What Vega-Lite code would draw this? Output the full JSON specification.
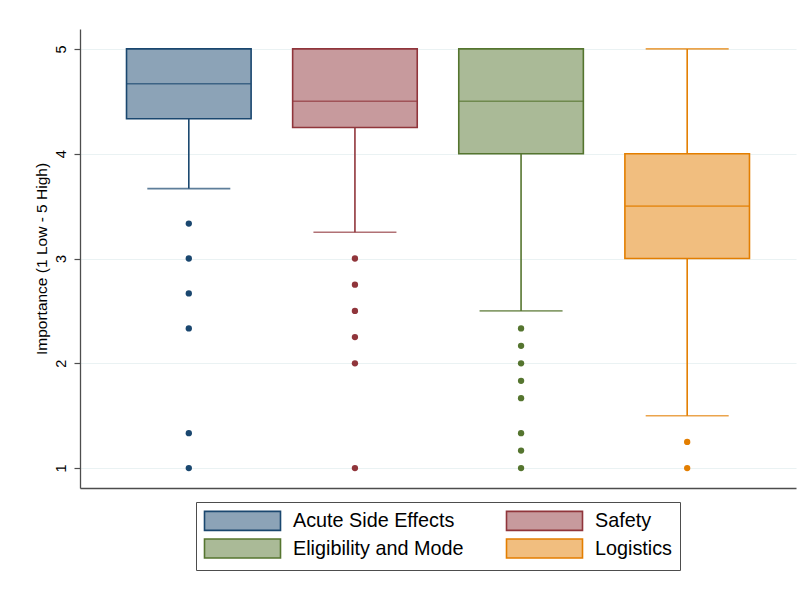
{
  "$schema": "https://vega.github.io/schema/vega-lite/v6.json",
  "width": 716,
  "height": 459,
  "autosize": {"type": "none"},
  "padding": {"left": 80, "top": 29, "right": 7, "bottom": 102},
  "background": "white",
  "config": {
    "view": {"stroke": null},
    "font": "Liberation Sans",
    "legend": {
      "layout": {"bottom": {"anchor": "middle"}}
    }
  },
  "datasets": {
    "stats": [
      {"group": "Acute Side Effects", "lower": 3.667, "q1": 4.333, "median": 4.667, "q3": 5, "upper": 5},
      {"group": "Safety", "lower": 3.25, "q1": 4.25, "median": 4.5, "q3": 5, "upper": 5},
      {"group": "Eligibility and Mode", "lower": 2.5, "q1": 4, "median": 4.5, "q3": 5, "upper": 5},
      {"group": "Logistics", "lower": 1.5, "q1": 3, "median": 3.5, "q3": 4, "upper": 5}
    ],
    "outliers": [
      {"group": "Acute Side Effects", "value": 3.333},
      {"group": "Acute Side Effects", "value": 3},
      {"group": "Acute Side Effects", "value": 2.667},
      {"group": "Acute Side Effects", "value": 2.333},
      {"group": "Acute Side Effects", "value": 1.333},
      {"group": "Acute Side Effects", "value": 1},
      {"group": "Safety", "value": 3},
      {"group": "Safety", "value": 2.75},
      {"group": "Safety", "value": 2.5},
      {"group": "Safety", "value": 2.25},
      {"group": "Safety", "value": 2},
      {"group": "Safety", "value": 1},
      {"group": "Eligibility and Mode", "value": 2.333},
      {"group": "Eligibility and Mode", "value": 2.167},
      {"group": "Eligibility and Mode", "value": 2},
      {"group": "Eligibility and Mode", "value": 1.833},
      {"group": "Eligibility and Mode", "value": 1.667},
      {"group": "Eligibility and Mode", "value": 1.333},
      {"group": "Eligibility and Mode", "value": 1.167},
      {"group": "Eligibility and Mode", "value": 1},
      {"group": "Logistics", "value": 1.25},
      {"group": "Logistics", "value": 1}
    ]
  },
  "encoding": {
    "x": {
      "field": "group",
      "type": "nominal",
      "sort": ["Acute Side Effects", "Safety", "Eligibility and Mode", "Logistics"],
      "scale": {"paddingInner": 0.25, "paddingOuter": 0.28},
      "axis": {
        "title": null,
        "labels": false,
        "ticks": false,
        "grid": false,
        "domain": true,
        "domainColor": "#4d4d4d",
        "domainWidth": 1.3
      }
    }
  },
  "layer": [
    {
      "data": {"name": "stats"},
      "mark": {"type": "rule", "strokeWidth": 1.6},
      "encoding": {
        "y": {
          "field": "lower",
          "type": "quantitative",
          "scale": {"domain": [0.81, 5.19], "nice": false, "zero": false},
          "axis": {
            "title": "Importance (1 Low - 5 High)",
            "titleFontSize": 15.5,
            "titleFontWeight": "normal",
            "titleColor": "#000000",
            "titlePadding": 4,
            "values": [1, 2, 3, 4, 5],
            "format": "d",
            "labelAngle": -90,
            "labelAlign": "center",
            "labelBaseline": "bottom",
            "labelFontSize": 14.5,
            "labelColor": "#000000",
            "labelPadding": 6,
            "tickSize": 6,
            "tickColor": "#4d4d4d",
            "tickWidth": 1.2,
            "domainColor": "#4d4d4d",
            "domainWidth": 1.3,
            "grid": true,
            "gridColor": "#eaf2f3",
            "gridWidth": 1.2
          }
        },
        "y2": {"field": "upper"},
        "color": {
          "field": "group",
          "type": "nominal",
          "scale": {
            "domain": ["Logistics", "Eligibility and Mode", "Safety", "Acute Side Effects"],
            "range": ["#e37e00", "#55752f", "#90353b", "#1a476f"]
          },
          "legend": null
        }
      }
    },
    {
      "data": {"name": "stats"},
      "mark": {"type": "tick", "size": 83, "thickness": 1.6},
      "encoding": {
        "y": {"field": "lower", "type": "quantitative"},
        "color": {"field": "group", "type": "nominal", "legend": null}
      }
    },
    {
      "data": {"name": "stats"},
      "mark": {"type": "tick", "size": 83, "thickness": 1.6},
      "encoding": {
        "y": {"field": "upper", "type": "quantitative"},
        "color": {"field": "group", "type": "nominal", "legend": null}
      }
    },
    {
      "data": {"name": "stats"},
      "mark": {"type": "bar", "strokeWidth": 1.6},
      "encoding": {
        "y": {"field": "q1", "type": "quantitative"},
        "y2": {"field": "q3"},
        "fill": {
          "field": "group",
          "type": "nominal",
          "scale": {
            "domain": ["Acute Side Effects", "Safety", "Eligibility and Mode", "Logistics"],
            "range": ["#8ca3b7", "#c79a9d", "#aaba97", "#f1be7f"]
          },
          "legend": {
            "title": null,
            "orient": "bottom",
            "direction": "horizontal",
            "columns": 2,
            "offset": 14,
            "symbolType": "M-4,-1H4V1H-4Z",
            "symbolSize": 361,
            "symbolOffset": 28,
            "symbolStrokeWidth": 1.6,
            "labelFontSize": 19.8,
            "labelColor": "#000000",
            "labelOffset": 40,
            "labelLimit": 300,
            "columnPadding": 39,
            "rowPadding": 1,
            "padding": 8,
            "strokeColor": "#4d4d4d",
            "fillColor": "#ffffff"
          }
        },
        "stroke": {
          "field": "group",
          "type": "nominal",
          "scale": {
            "domain": ["Acute Side Effects", "Safety", "Eligibility and Mode", "Logistics"],
            "range": ["#1a476f", "#90353b", "#55752f", "#e37e00"]
          },
          "legend": {
            "title": null,
            "orient": "bottom",
            "direction": "horizontal",
            "columns": 2,
            "offset": 14,
            "symbolType": "M-4,-1H4V1H-4Z",
            "symbolSize": 361,
            "symbolOffset": 28,
            "symbolStrokeWidth": 1.6,
            "labelFontSize": 19.8,
            "labelColor": "#000000",
            "labelOffset": 40,
            "labelLimit": 300,
            "columnPadding": 39,
            "rowPadding": 1,
            "padding": 8,
            "strokeColor": "#4d4d4d",
            "fillColor": "#ffffff"
          }
        }
      }
    },
    {
      "data": {"name": "stats"},
      "mark": {"type": "tick", "size": 124, "thickness": 1.6},
      "encoding": {
        "y": {"field": "median", "type": "quantitative"},
        "color": {"field": "group", "type": "nominal", "legend": null}
      }
    },
    {
      "data": {"name": "outliers"},
      "mark": {"type": "point", "filled": true, "size": 40, "opacity": 1, "shape": "circle"},
      "encoding": {
        "y": {"field": "value", "type": "quantitative"},
        "color": {"field": "group", "type": "nominal", "legend": null}
      }
    }
  ]
}
